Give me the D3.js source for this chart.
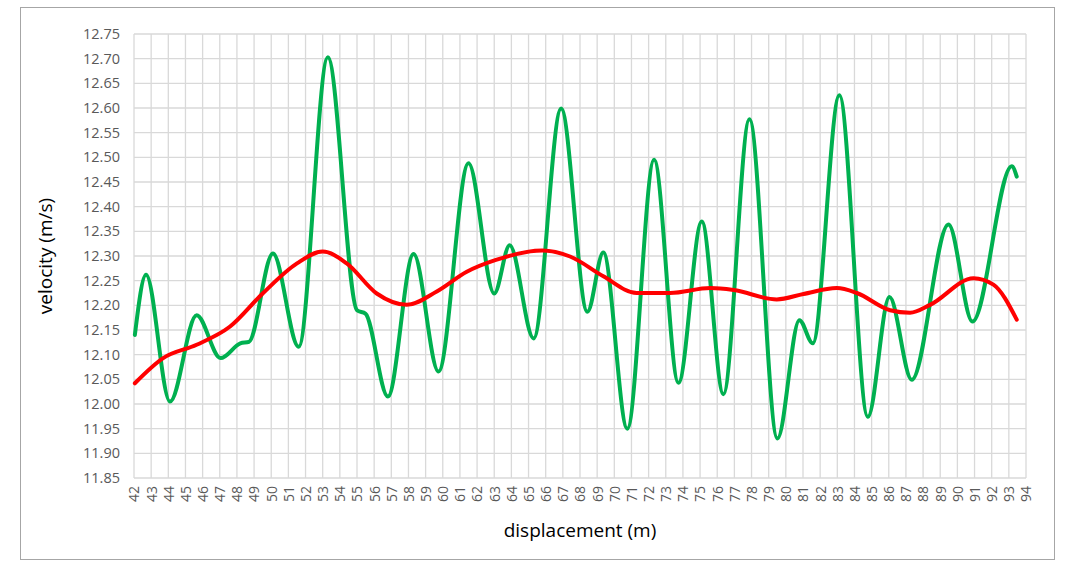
<!DOCTYPE html>
<html><head><meta charset="utf-8">
<script src="https://cdn.jsdelivr.net/npm/d3@7"></script>
<style>body{margin:0;background:#fff;font-family:"Open Sans",sans-serif}</style>
</head><body><svg id="c" width="1068" height="575"></svg>
<script>
// green series: readings at the turning points of the curve
var gx = [42.05,42.7,44.1,45.65,47.05,48.2,48.7,50.1,51.6,53.3,55.0,55.5,56.8,58.3,59.75,61.5,63.0,63.9,65.3,66.9,68.43,69.36,70.76,72.32,73.74,75.1,76.36,77.88,79.51,80.79,81.57,83.12,84.78,86.04,87.34,89.48,90.88,93.17,93.46];
var gy = [12.14,12.262,12.005,12.18,12.093,12.123,12.126,12.305,12.116,12.703,12.19,12.183,12.015,12.304,12.066,12.488,12.224,12.322,12.133,12.599,12.187,12.307,11.95,12.495,12.043,12.37,12.02,12.577,11.93,12.17,12.123,12.626,11.974,12.217,12.049,12.364,12.167,12.482,12.461];
// red trend series
var rx = [42.05,43.7,45.65,47.6,49.5,51.5,53.0,54.4,56.15,57.9,59.65,61.4,63.1,65.8,67.42,69.36,71.3,73.25,75.6,76.95,79.47,81.03,82.97,84.14,86.08,87.24,88.41,90.94,92.1,93.46];
var ry = [12.042,12.093,12.12,12.157,12.224,12.285,12.309,12.285,12.224,12.201,12.228,12.268,12.292,12.311,12.299,12.259,12.225,12.225,12.235,12.231,12.212,12.223,12.235,12.225,12.19,12.185,12.201,12.255,12.242,12.171];
var xTicks = d3.range(42,95);
var yTicks = d3.range(0,19).map(function(i){return +(11.85+i*0.05).toFixed(2)});

var svg = d3.select("#c");
var L=134, R=1026, T=34, B=478;
var x = d3.scaleLinear().domain([42,94]).range([L,R]);
var y = d3.scaleLinear().domain([11.85,12.75]).range([B,T]);

svg.append("rect").attr("x",20.5).attr("y",7.5).attr("width",1034).attr("height",552)
   .attr("fill","#fff").attr("stroke","#a6a6a6");

var grid = svg.append("g").attr("stroke","#d9d9d9").attr("stroke-width",1.3);
grid.selectAll("line.v").data(xTicks).enter().append("line")
    .attr("x1",function(d){return x(d)}).attr("x2",function(d){return x(d)})
    .attr("y1",T).attr("y2",B);
grid.selectAll("line.h").data(yTicks).enter().append("line")
    .attr("y1",function(d){return y(d)}).attr("y2",function(d){return y(d)})
    .attr("x1",L).attr("x2",R);

var ya = svg.append("g").attr("transform","translate("+L+",0)")
    .call(d3.axisLeft(y).tickValues(yTicks).tickFormat(d3.format(".2f")).tickSize(0).tickPadding(14));
ya.select(".domain").remove();
ya.selectAll("text").attr("fill","#595959").style("font-size","14.5px").style("font-family","'Open Sans',sans-serif");

var xa = svg.append("g").attr("transform","translate(0,"+B+")")
    .call(d3.axisBottom(x).tickValues(xTicks).tickFormat(d3.format("d")).tickSize(0));
xa.select(".domain").remove();
xa.selectAll("text").attr("fill","#595959").style("font-size","14px").style("font-family","'Open Sans',sans-serif")
  .attr("transform","rotate(-90)").attr("text-anchor","end").attr("x",-8).attr("y",0).attr("dy","0.35em");

var line = d3.line().curve(d3.curveMonotoneX)
    .x(function(d){return x(d[0])}).y(function(d){return y(d[1])});
svg.append("path").datum(d3.zip(gx,gy)).attr("d",line)
   .attr("fill","none").attr("stroke","#00b050").attr("stroke-width",4).attr("stroke-linecap","round");
svg.append("path").datum(d3.zip(rx,ry)).attr("d",line)
   .attr("fill","none").attr("stroke","#ff0000").attr("stroke-width",4).attr("stroke-linecap","round");

svg.append("text").attr("x",(L+R)/2).attr("y",537).attr("text-anchor","middle")
   .style("font-size","19px").attr("fill","#000").text("displacement (m)");
svg.append("text").attr("transform","translate(52,"+((T+B)/2)+") rotate(-90)").attr("text-anchor","middle")
   .style("font-size","19px").attr("fill","#000").text("velocity (m/s)");
</script></body></html>
